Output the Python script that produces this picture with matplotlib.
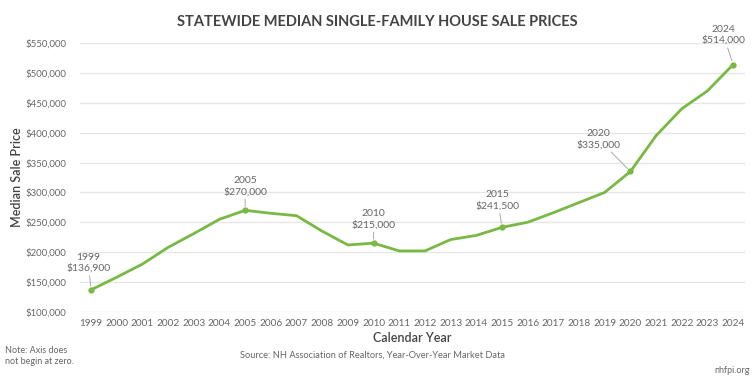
import matplotlib.pyplot as plt
from matplotlib.ticker import FuncFormatter

plt.rcParams['font.family'] = ['Lato', 'DejaVu Sans']

years = list(range(1999, 2025))
prices = [136900, 158000, 180000, 208000, 231000, 255000, 270000, 265000,
          261000, 235000, 212000, 215000, 202000, 202000, 221000, 228000,
          241500, 250000, 266000, 283000, 300000, 335000, 395000, 440000,
          470000, 514000]
labeled = [1999, 2005, 2010, 2015, 2020, 2024]

green = '#78b844'
grey = '#666666'
dark = '#444444'

fig = plt.figure(figsize=(7.55, 3.78), dpi=100)
ax = fig.add_axes([0.106, 0.175, 0.881, 0.711])

ax.plot(years, prices, color=green, lw=2, zorder=3)
idx = [years.index(y) for y in labeled]
ax.plot([years[i] for i in idx], [prices[i] for i in idx], 'o', color=green,
        ms=3.5, zorder=4)

# label offsets in points (dx, dy)
offsets = {1999: (-2, 12), 2005: (0, 10), 2010: (0, 10), 2015: (-3, 12),
           2020: (-23, 16), 2024: (-7, 14)}
for i in idx:
    y = years[i]
    dx, dy = offsets[y]
    ax.annotate(f'{y}\n${prices[i]:,}', (y, prices[i]), xytext=(dx, dy),
                textcoords='offset points', ha='center', va='bottom',
                fontsize=7.5, color=grey, linespacing=1.3,
                arrowprops=dict(arrowstyle='-', color='#aaaaaa', lw=0.7,
                                shrinkA=0, shrinkB=3))

ax.set_xlim(1998.57, 2024.47)
ax.set_ylim(100000, 550000)
ax.set_xticks(years)
ax.set_yticks(range(100000, 550001, 50000))
ax.yaxis.set_major_formatter(FuncFormatter(lambda v, p: f'${v:,.0f}'))
ax.tick_params(length=0, labelcolor=grey)
ax.tick_params(axis='y', pad=10, labelsize=6.9)
ax.tick_params(axis='x', pad=5, labelsize=7.2)
ax.grid(axis='y', color='#e6e6e6', lw=1)
ax.set_axisbelow(True)
for s in ax.spines.values():
    s.set_visible(False)

fig.text(0.5, 0.942, 'STATEWIDE MEDIAN SINGLE-FAMILY HOUSE SALE PRICES',
         ha='center', va='center', fontsize=10.5, fontweight='bold',
         color=dark)
fig.text(0.546, 0.106, 'Calendar Year', ha='center', va='center',
         fontsize=9, fontweight='semibold', color=dark)
fig.text(0.023, 0.53, 'Median Sale Price', ha='center', va='center',
         rotation=90, fontsize=9, fontweight='semibold', color=dark)
fig.text(0.007, 0.058, 'Note: Axis does\nnot begin at zero.', ha='left',
         va='center', fontsize=6.5, color=grey, linespacing=1.4)
fig.text(0.493, 0.061, 'Source: NH Association of Realtors, Year-Over-Year Market Data',
         ha='center', va='center', fontsize=6.7, color=grey)
fig.text(0.993, 0.021, 'nhfpi.org', ha='right', va='center', fontsize=6.5,
         color=grey)

fig.savefig('out.png', dpi=100, facecolor='white')
